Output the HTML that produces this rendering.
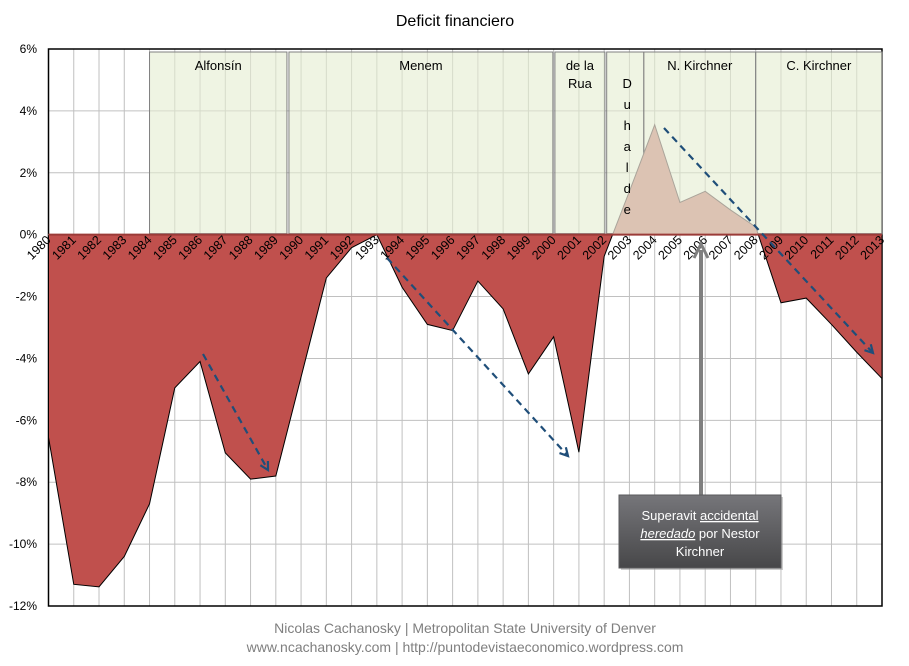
<!DOCTYPE html>
<html><head><meta charset="utf-8"><style>
body{margin:0;background:#fff;}
svg{display:block;font-family:"Liberation Sans",Calibri,sans-serif;}
</style></head><body>
<svg id="chart" width="909" height="666" viewBox="0 0 909 666">
<text x="455" y="26" text-anchor="middle" font-size="16" fill="#000">Deficit financiero</text>
<g id="grid"></g><g id="boxes"></g><g id="area"></g><g id="boxtext"></g><g id="labels"></g><g id="arrows"></g>
<g>
<defs><linearGradient id="bg" x1="0" y1="0" x2="0" y2="1"><stop offset="0" stop-color="#76767a"/><stop offset="1" stop-color="#474749"/></linearGradient></defs>
<rect x="621" y="497" width="162" height="73" fill="#999" opacity="0.5"/>
<rect x="619" y="495" width="162" height="73" fill="url(#bg)" stroke="#5a5a5c"/>
<text x="700" y="520" text-anchor="middle" font-size="13" fill="#fff">Superavit <tspan text-decoration="underline">accidental</tspan></text>
<text x="700" y="538" text-anchor="middle" font-size="13" fill="#fff"><tspan font-style="italic" text-decoration="underline">heredado</tspan> por Nestor</text>
<text x="700" y="556" text-anchor="middle" font-size="13" fill="#fff">Kirchner</text>
</g>
<text x="465" y="633" text-anchor="middle" font-size="14" fill="#7f7f7f">Nicolas Cachanosky | Metropolitan  State University of Denver</text>
<text x="465" y="652" text-anchor="middle" font-size="14" fill="#7f7f7f">www.ncachanosky.com  | http://puntodevistaeconomico.wordpress.com</text>
</svg>
<script>
const years=[1980,1981,1982,1983,1984,1985,1986,1987,1988,1989,1990,1991,1992,1993,1994,1995,1996,1997,1998,1999,2000,2001,2002,2003,2004,2005,2006,2007,2008,2009,2010,2011,2012,2013];
const deficit=[-6.55,-11.3,-11.38,-10.4,-8.7,-4.95,-4.1,-7.05,-7.9,-7.8,-4.6,-1.4,-0.42,0,-1.7,-2.9,-3.1,-1.5,-2.4,-4.5,-3.3,-7.03,-0.7,1.4,3.55,1.04,1.4,0.8,0.25,-2.2,-2.05,-2.9,-3.8,-4.65];
const yTicks=[6,4,2,0,-2,-4,-6,-8,-10,-12];
const presidents=["Alfonsín","Menem","de la Rua","Duhalde","N. Kirchner","C. Kirchner"];
const presStart=[1984,1989.52,2000.05,2002.1,2003.57,2008];
const presEnd=[1989.44,1999.97,2002.03,2003.57,2008,2013];

const NS="http://www.w3.org/2000/svg";
const L=48.5,R=882,T=49,B=606,YMAX=6,YMIN=-12;
const xs=i=>L+(R-L)*i/(years.length-1);
const xy=yr=>L+(R-L)*(yr-years[0])/(years[years.length-1]-years[0]);
const ys=v=>T+(B-T)*(YMAX-v)/(YMAX-YMIN);
function mk(tag,attrs,parent){const e=document.createElementNS(NS,tag);for(const k in attrs)e.setAttribute(k,attrs[k]);parent.appendChild(e);return e;}
const grid=document.getElementById('grid');
years.forEach((y,i)=>{const l=mk('line',{x1:xs(i),x2:xs(i),y1:T,y2:B,stroke:'#c0c0c0'},grid);

});
yTicks.forEach(t=>{const l=mk('line',{x1:L,x2:R,y1:ys(t),y2:ys(t),stroke:'#c0c0c0'},grid);


const tx=mk('text',{x:37,y:ys(t)+4,'text-anchor':'end','font-size':12,fill:'#000'},grid);tx.textContent=t+'%';

});
mk('rect',{x:L,y:T,width:R-L,height:B-T,fill:'none',stroke:'#000','stroke-width':1.5},grid);

const boxes=document.getElementById('boxes');
const boxtext=document.getElementById('boxtext');
presidents.forEach((p,i)=>{const x1=xy(presStart[i]),x2=xy(presEnd[i]);
const r=mk('rect',{x:x1,y:T+3,width:x2-x1,height:ys(0)-T-4,fill:'#e4ecd0','fill-opacity':0.6,stroke:'#808080'},boxes);


const cx=(x1+x2)/2;
if(p==="Duhalde"){[...p].forEach((c,j)=>{const t=mk('text',{x:cx+2,y:88+j*21,'text-anchor':'middle','font-size':13,fill:'#000'},boxtext);t.textContent=c;});}
else if(p==="de la Rua"){const t=mk('text',{x:cx,y:70,'text-anchor':'middle','font-size':13,fill:'#000'},boxtext);t.textContent='de la';const t2=mk('text',{x:cx,y:88,'text-anchor':'middle','font-size':13,fill:'#000'},boxtext);t2.textContent='Rua';}
else{const t=mk('text',{x:cx,y:70,'text-anchor':'middle','font-size':13,fill:'#000'},boxtext);t.textContent=p;

}
});

const area=document.getElementById('area');
const z=ys(0);
let pts=`${xs(0)},${z} `+deficit.map((v,i)=>`${xs(i)},${ys(v)}`).join(' ')+` ${xs(deficit.length-1)},${z}`;
const defs=mk('defs',{},area);
const c1=mk('clipPath',{id:'neg'},defs);mk('rect',{x:0,y:z,width:909,height:666},c1);
const c2=mk('clipPath',{id:'pos'},defs);mk('rect',{x:0,y:0,width:909,height:z},c2);
const pos=mk('polygon',{points:pts,fill:'#dcc3b3',stroke:'#aaa49a','clip-path':'url(#pos)'},area);


const neg=mk('polygon',{points:pts,fill:'#c0504d',stroke:'#000','clip-path':'url(#neg)'},area);


mk('line',{x1:L,x2:R,y1:z,y2:z,stroke:'#9b3b38','stroke-width':2},area);

const labels=document.getElementById('labels');
years.forEach((y,i)=>{const x=xs(i)+3,yy=z+6;const t=mk('text',{x:x,y:yy,'text-anchor':'end','font-size':12.5,fill:'#000',transform:`rotate(-45 ${x} ${yy})`},labels);t.textContent=y;

});

const arrows=document.getElementById('arrows');
function arrow(x1,y1,x2,y2,name){const g=mk('g',{},arrows);


mk('line',{x1,y1,x2,y2,stroke:'#1f4e79','stroke-width':2.2,'stroke-dasharray':'7,5'},g);
const a=Math.atan2(y2-y1,x2-x1),s=9;
const p1=[x2-s*Math.cos(a-0.5),y2-s*Math.sin(a-0.5)],p2=[x2-s*Math.cos(a+0.5),y2-s*Math.sin(a+0.5)];
mk('polyline',{points:`${p1} ${x2},${y2} ${p2}`,fill:'none',stroke:'#1f4e79','stroke-width':2.2},g);}
arrow(203,354,268,470,'trend-arrow-alfonsin');
arrow(387,258,568,456,'trend-arrow-menem');
arrow(664,128,873,353,'trend-arrow-kirchner');
const ga=mk('g',{},arrows);


mk('line',{x1:701,y1:495,x2:701,y2:250,stroke:'#7f7f7f','stroke-width':4},ga);
mk('polyline',{points:'694,258 701,244 708,258',fill:'none',stroke:'#7f7f7f','stroke-width':3},ga);
</script>
</body></html>
